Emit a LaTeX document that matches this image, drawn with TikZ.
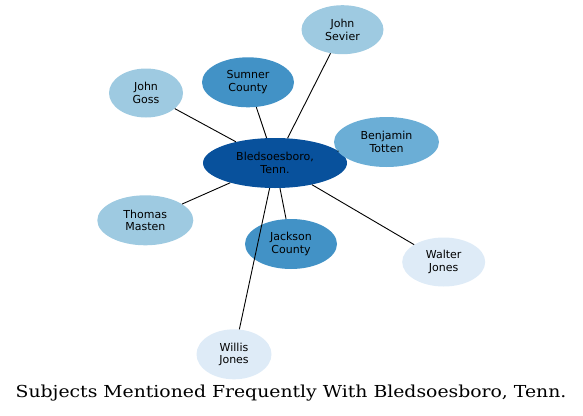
\documentclass[tikz,border=0pt]{standalone}
\usepackage{fontspec}
\setmainfont{DejaVu Sans}
\newfontfamily\titlefont{DejaVu Serif}
\usetikzlibrary{shapes.geometric}
\definecolor{blue1}{HTML}{08519C}
\definecolor{blue2}{HTML}{4292C6}
\definecolor{blue3}{HTML}{6BAED6}
\definecolor{blue4}{HTML}{9ECAE1}
\definecolor{blue5}{HTML}{DEEBF7}
\begin{document}
\begin{tikzpicture}[x=1pt, y=-1pt, topic/.style={ellipse, inner sep=0pt, minimum height=50pt, align=center, font=\fontsize{11}{12.5}\selectfont}, link/.style={line width=0.9pt}]
\useasboundingbox (0,0) rectangle (583,415);
\node[topic, fill=blue1, minimum width=144pt] (bled) at (275,163) {Bledsoesboro,\\Tenn.};
\node[topic, fill=blue4, minimum width=82pt, minimum height=49pt] (sevier) at (342.5,29.7) {John\\Sevier};
\node[topic, fill=blue2, minimum width=92pt] (sumner) at (248,82.3) {Sumner\\County};
\node[topic, fill=blue4, minimum width=74pt, minimum height=49pt] (goss) at (146,93) {John\\Goss};
\node[topic, fill=blue3, minimum width=105pt] (totten) at (386.5,142) {Benjamin\\Totten};
\node[topic, fill=blue4, minimum width=96pt] (masten) at (145.3,220.3) {Thomas\\Masten};
\node[topic, fill=blue2, minimum width=92pt] (jackson) at (291,244) {Jackson\\County};
\node[topic, fill=blue5, minimum width=83pt, minimum height=49pt] (walter) at (443.7,262) {Walter\\Jones};
\node[topic, fill=blue5, minimum width=75pt] (willis) at (234,354.3) {Willis\\Jones};
\draw[link] (bled) -- (sevier);
\draw[link] (bled) -- (sumner);
\draw[link] (bled) -- (goss);
\draw[link] (bled) -- (totten);
\draw[link] (bled) -- (masten);
\draw[link] (bled) -- (jackson);
\draw[link] (bled) -- (walter);
\draw[link] (bled) -- (willis);
\node[font=\titlefont\fontsize{16.5}{18}\selectfont] (title) at (291,393) {\scalebox{1.14}[1]{Subjects Mentioned Frequently With Bledsoesboro, Tenn.}};
\end{tikzpicture}
\end{document}
